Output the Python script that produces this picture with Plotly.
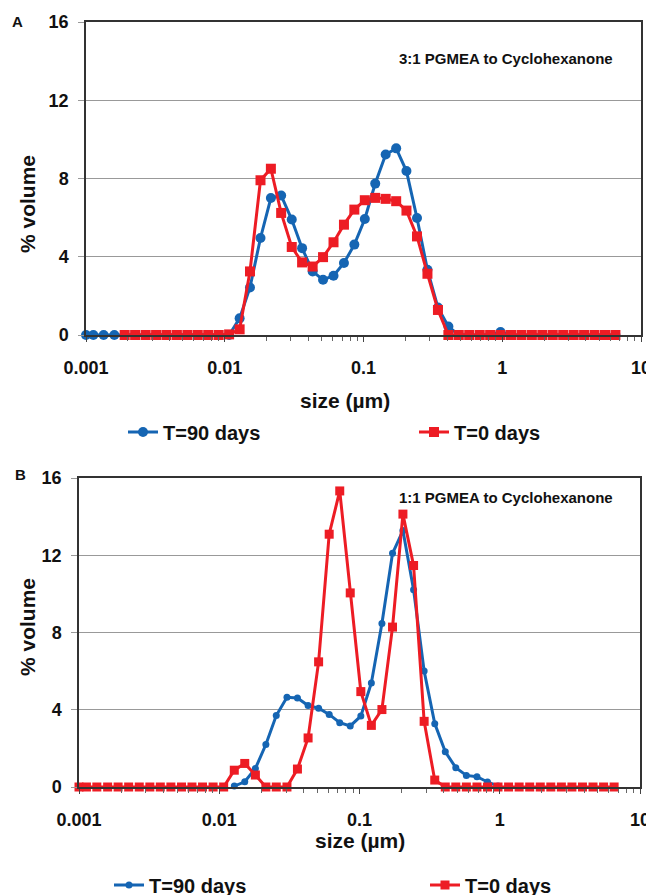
import plotly.graph_objects as go

# Particle size bins (µm)
sizes = [0.001, 0.00113, 0.00134, 0.0016, 0.0019, 0.00226, 0.00269, 0.0032, 0.0038,
         0.00452, 0.00538, 0.00639, 0.0076, 0.00904, 0.01075, 0.0128, 0.0152, 0.0181,
         0.0215, 0.0255, 0.0304, 0.0361, 0.0430, 0.0511, 0.0608, 0.0723, 0.0859,
         0.1022, 0.1215, 0.1445, 0.172, 0.204, 0.243, 0.289, 0.344, 0.409, 0.486,
         0.578, 0.688, 0.818, 0.972, 1.156, 1.375, 1.635, 1.945, 2.312, 2.75, 3.27,
         3.889, 4.625, 5.5, 6.54]

# Panel A (3:1 PGMEA to Cyclohexanone)
a_t90 = [0, 0, 0, 0, 0, 0, 0, 0, 0, 0, 0, 0, 0, 0, 0,
         0.85, 2.43, 4.96, 7.0, 7.13, 5.9, 4.44, 3.25, 2.82, 3.03, 3.68, 4.62,
         5.93, 7.74, 9.23, 9.54, 8.38, 5.98, 3.33, 1.40, 0.43,
         0, 0, 0, 0, 0.15, 0, 0, 0, 0, 0, 0, 0, 0, 0, 0, 0]
a_t0_sizes = sizes[4:]
a_t0 = [0, 0, 0, 0, 0, 0, 0, 0, 0, 0, 0.03,
        0.29, 3.25, 7.91, 8.50, 6.24, 4.50, 3.71, 3.50, 3.98, 4.74, 5.64, 6.41,
        6.89, 7.01, 6.96, 6.84, 6.36, 5.04, 3.13, 1.28,
        0, 0, 0, 0, 0, 0, 0, 0, 0, 0, 0, 0, 0, 0, 0, 0, 0]

# Panel B (1:1 PGMEA to Cyclohexanone)
b_t90_sizes = sizes[15:41]
b_t90 = [0.05, 0.27, 0.96, 2.2, 3.7, 4.65, 4.61, 4.22, 4.08, 3.76, 3.33, 3.16,
         3.67, 5.39, 8.47, 12.1, 13.28, 10.22, 6.0, 3.28, 1.82, 1.0, 0.6, 0.53,
         0.26, 0.05]
b_t0 = [0, 0, 0, 0, 0, 0, 0, 0, 0, 0, 0, 0, 0, 0, 0,
        0.87, 1.22, 0.62, 0, 0, 0, 0.93, 2.54, 6.48, 13.09, 15.33, 10.05,
        4.94, 3.19, 4.01, 8.28, 14.13, 11.47, 3.40, 0.36,
        0, 0, 0, 0, 0, 0, 0, 0, 0, 0, 0, 0, 0, 0, 0, 0, 0]

x_ticks = [0.001, 0.01, 0.1, 1, 10]
x_ticklabels = ["0.001", "0.01", "0.1", "1", "10"]
y_ticks = [0, 4, 8, 12, 16]
minor_ticks = [m * 10 ** e for e in range(-3, 1) for m in range(2, 10)]

BLUE = "#1565b3"
RED = "#ed1c24"
FONT = "Liberation Sans, Arial, sans-serif"
OFF = 8  # page body margin offset
W, H = 654 - OFF, 895 - OFF


def px(x):
    return (x - OFF) / W


def py(y):
    return 1 - (y - OFF) / H


fig = go.Figure()

# Panel A
fig.add_trace(go.Scatter(x=sizes, y=a_t90, name="T=90 days", mode="lines+markers",
                         line=dict(color=BLUE, width=3),
                         marker=dict(symbol="circle", size=10, color=BLUE),
                         xaxis="x", yaxis="y", legend="legend", cliponaxis=False))
fig.add_trace(go.Scatter(x=a_t0_sizes, y=a_t0, name="T=0 days", mode="lines+markers",
                         line=dict(color=RED, width=3),
                         marker=dict(symbol="square", size=10, color=RED),
                         xaxis="x", yaxis="y", legend="legend2", cliponaxis=False))
# Panel B
fig.add_trace(go.Scatter(x=b_t90_sizes, y=b_t90, name="T=90 days", mode="lines+markers",
                         line=dict(color=BLUE, width=3),
                         marker=dict(symbol="circle", size=7, color=BLUE),
                         xaxis="x2", yaxis="y2", legend="legend3", cliponaxis=False))
fig.add_trace(go.Scatter(x=sizes, y=b_t0, name="T=0 days", mode="lines+markers",
                         line=dict(color=RED, width=3),
                         marker=dict(symbol="square", size=9, color=RED),
                         xaxis="x2", yaxis="y2", legend="legend4", cliponaxis=False))

tickfont = dict(family=FONT, size=18, color="#111", weight="bold")


def xaxis_cfg(domain, anchor):
    return dict(type="log", range=[-3, 1], domain=domain, anchor=anchor,
                automargin=False,
                tickvals=x_ticks, ticktext=x_ticklabels, tickfont=tickfont,
                ticks="outside", ticklen=5, tickcolor="#444", ticklabelstandoff=11,
                showline=True, linecolor="#333", linewidth=1.5, mirror=True,
                showgrid=False, zeroline=False,
                minor=dict(tickvals=minor_ticks, ticks="outside", ticklen=4,
                           tickcolor="#666", showgrid=False))


def yaxis_cfg(domain, anchor):
    return dict(range=[0, 16], domain=domain, anchor=anchor,
                automargin=False,
                tickvals=y_ticks, tickfont=tickfont,
                ticks="outside", ticklen=6, tickcolor="#999", ticklabelstandoff=6,
                showline=True, linecolor="#333", linewidth=1.5, mirror=True,
                showgrid=True, gridcolor="#999", gridwidth=1, zeroline=False)


legend_font = dict(family=FONT, size=20, color="#111", weight="bold")


def legend_cfg(xp, yp):
    return dict(x=px(xp - 10), y=py(yp), xanchor="left", yanchor="middle",
                orientation="h", font=legend_font, bgcolor="rgba(0,0,0,0)",
                borderwidth=0)


fig.update_layout(
    template="none",
    width=W, height=H,
    margin=dict(l=0, r=0, t=0, b=0, autoexpand=False),
    paper_bgcolor="white", plot_bgcolor="white",
    xaxis=xaxis_cfg([px(86), px(641)], "y"),
    yaxis=yaxis_cfg([py(335), py(22)], "x"),
    xaxis2=xaxis_cfg([px(79), px(640)], "y2"),
    yaxis2=yaxis_cfg([py(787), py(478)], "x2"),
    legend=legend_cfg(133, 432),
    legend2=legend_cfg(424, 432),
    legend3=legend_cfg(119, 885),
    legend4=legend_cfg(435, 885),
    showlegend=True,
)

title_font = dict(family=FONT, size=21, color="#111", weight="bold")
ann = [
    dict(text="A", x=px(17), y=py(22), font=dict(family=FONT, size=15, color="#111", weight="bold")),
    dict(text="B", x=px(20), y=py(474), font=dict(family=FONT, size=15, color="#111", weight="bold")),
    dict(text="% volume", x=px(27), y=py(204), textangle=-90, font=title_font),
    dict(text="% volume", x=px(27), y=py(627), textangle=-90, font=title_font),
    dict(text="size (µm)", x=px(345), y=py(400), font=title_font),
    dict(text="size (µm)", x=px(360), y=py(840), font=title_font),
    dict(text="3:1 PGMEA to Cyclohexanone", x=px(506), y=py(58),
         font=dict(family=FONT, size=15, color="#111", weight="bold")),
    dict(text="1:1 PGMEA to Cyclohexanone", x=px(506), y=py(497),
         font=dict(family=FONT, size=15, color="#111", weight="bold")),
]
for a in ann:
    a.update(xref="paper", yref="paper", showarrow=False, xanchor="center", yanchor="middle")
fig.update_layout(annotations=ann)

fig.write_html("out.html")
